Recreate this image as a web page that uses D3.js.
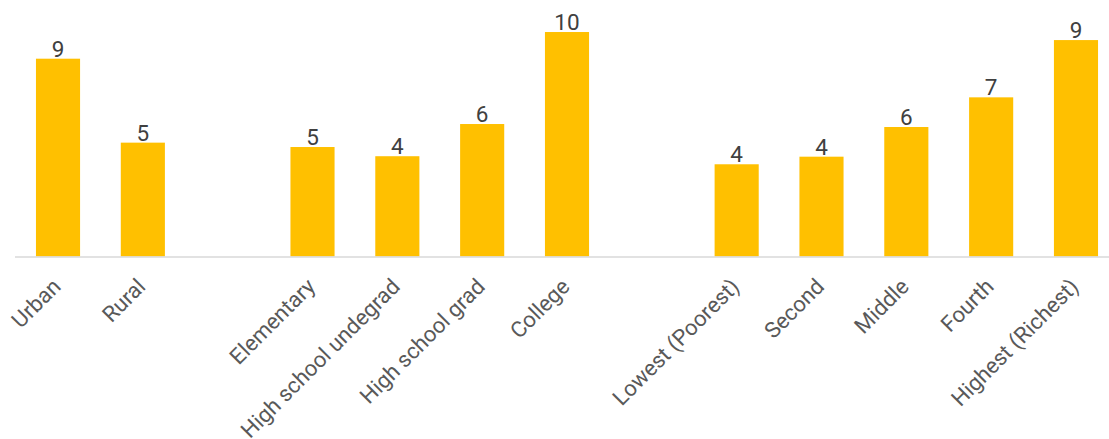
<!DOCTYPE html>
<html>
<head>
<meta charset="utf-8">
<script src="https://cdn.jsdelivr.net/npm/d3@7"></script>
<style>
  html, body { margin: 0; padding: 0; background: #fff; }
  svg { display: block; }
</style>
</head>
<body>
<svg id="chart" width="1109" height="439"></svg>
<script>
// Categories in display order; blank keys are spacer slots between groups
const categories = [
  "Urban", "Rural", "",
  "Elementary", "High school undegrad", "High school grad", "College", " ",
  "Lowest (Poorest)", "Second", "Middle", "Fourth", "Highest (Richest)"
];
const values = [
  8.6, 4.95, null,
  4.76, 4.36, 5.76, 9.76, null,
  4.01, 4.34, 5.63, 6.92, 9.41
];
const yDomain = [0, 10];

const data = categories.map((c, i) => ({ cat: c, value: values[i] }));

const svg = d3.select("#chart");
const baseY = 256.5;

const x = d3.scaleBand()
  .domain(categories)
  .range([15.6, 1118.4])
  .paddingInner(0.48)
  .paddingOuter(0.24);

const y = d3.scaleLinear()
  .domain(yDomain)
  .range([baseY, baseY - 230]);

const bars = data.filter(d => d.value != null);

// Bars
svg.append("g")
  .selectAll("rect")
  .data(bars)
  .join("rect")
  .attr("x", d => x(d.cat))
  .attr("y", d => y(d.value))
  .attr("width", x.bandwidth())
  .attr("height", d => y(0) - y(d.value))
  .attr("fill", "#FFC000");

// Category axis baseline
svg.append("line")
  .attr("x1", 15)
  .attr("x2", 1109)
  .attr("y1", y(0) + 0.5)
  .attr("y2", y(0) + 0.5)
  .attr("stroke", "#D9D9D9")
  .attr("stroke-width", 1.5);

// Value labels
svg.append("g")
  .selectAll("text")
  .data(bars)
  .join("text")
  .attr("x", d => x(d.cat) + x.bandwidth() / 2)
  .attr("y", d => y(d.value) - 2)
  .attr("text-anchor", "middle")
  .attr("font-family", "Roboto, sans-serif")
  .attr("font-size", 22.5)
  .attr("fill", "#404040")
  .text(d => d3.format(".0f")(d.value));

// Rotated category labels
svg.append("g")
  .selectAll("text")
  .data(bars)
  .join("text")
  .attr("transform", d => `translate(${x(d.cat) + x.bandwidth() / 2 + 4},288) rotate(-45)`)
  .attr("text-anchor", "end")
  .attr("font-family", "Roboto, sans-serif")
  .attr("font-size", 22)
  .attr("fill", "#595959")
  .text(d => d.cat);
</script>
</body>
</html>
